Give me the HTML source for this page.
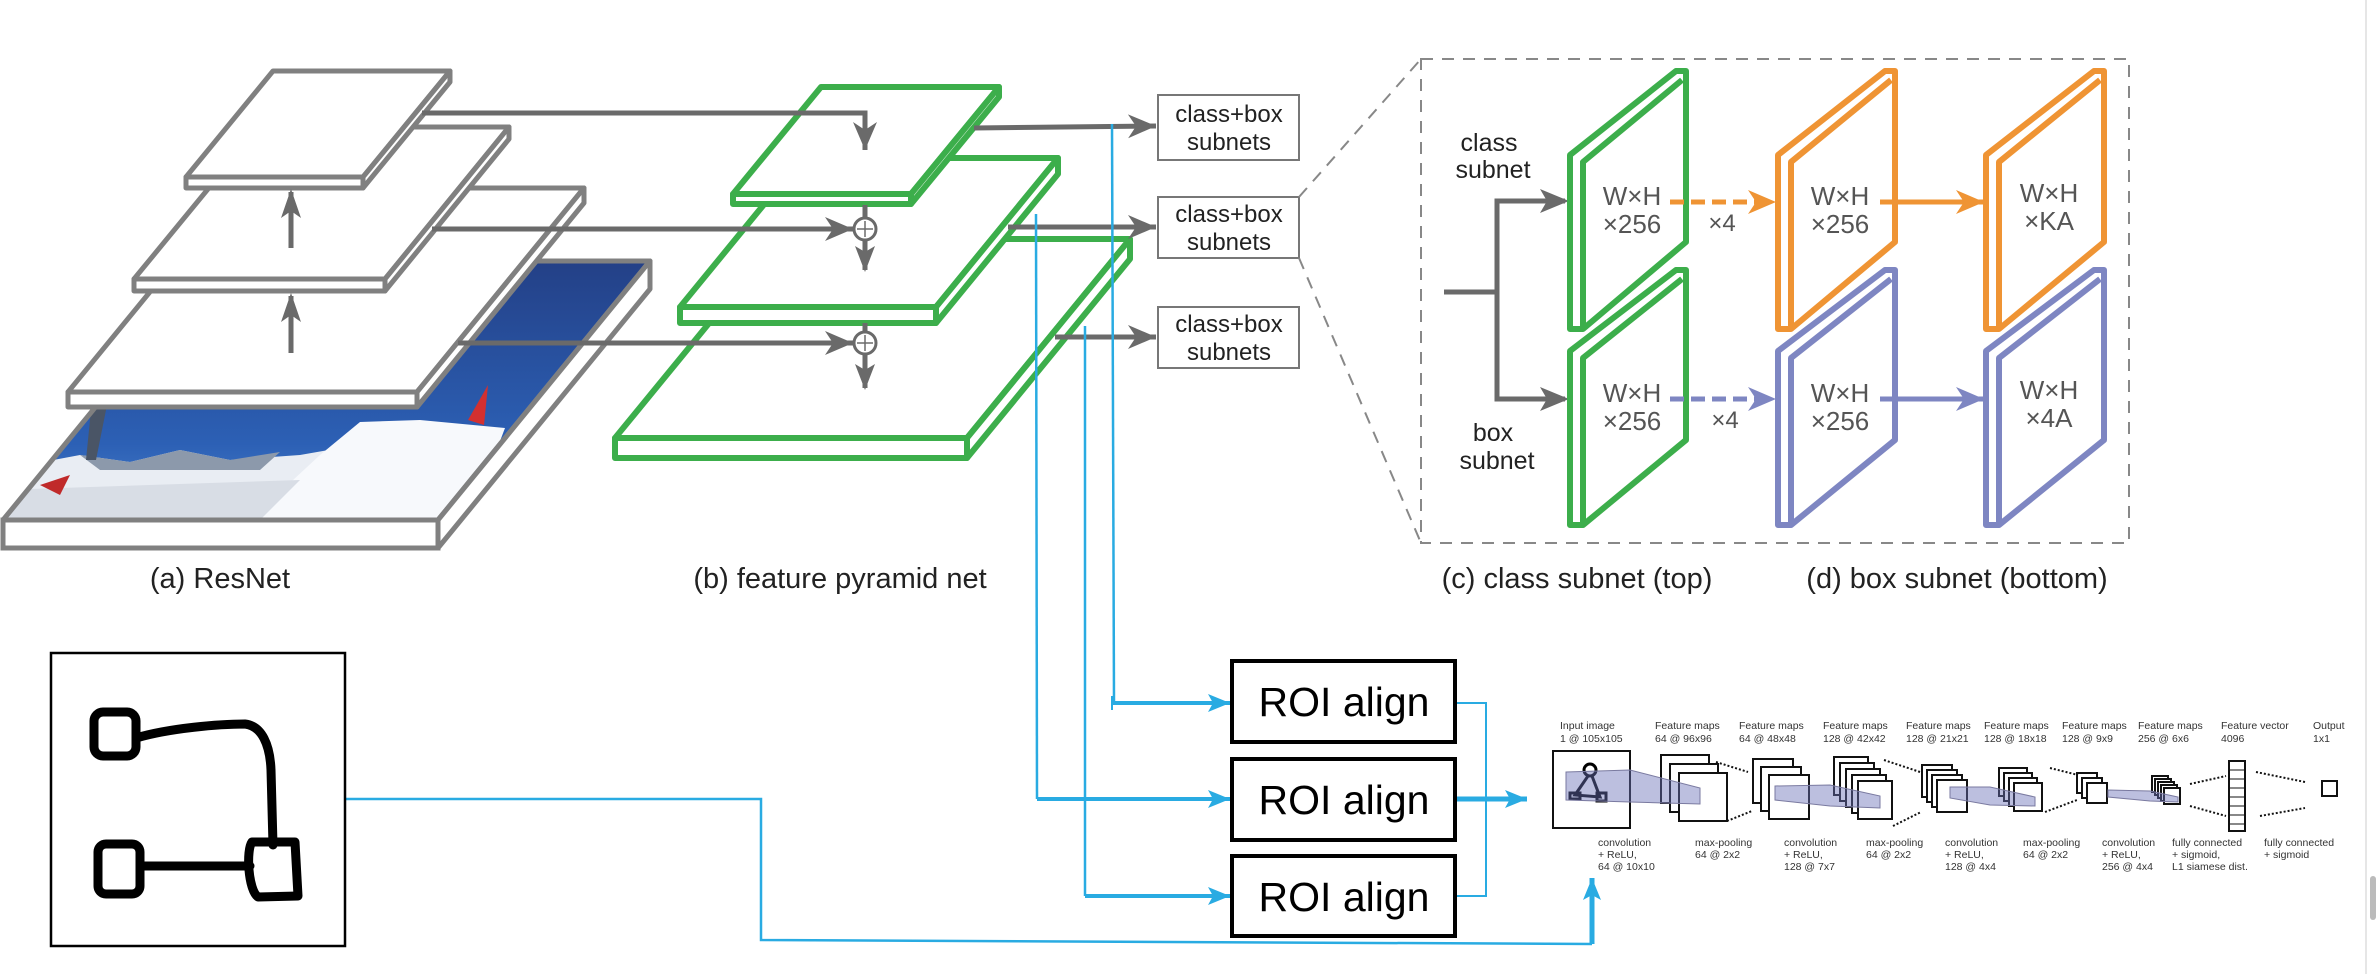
<!DOCTYPE html>
<html><head><meta charset="utf-8"><style>
html,body{margin:0;padding:0;background:#fff;}
svg{display:block;}
text{font-family:"Liberation Sans","DejaVu Sans",sans-serif;}
</style></head><body>
<svg width="2376" height="974" viewBox="0 0 2376 974" xmlns="http://www.w3.org/2000/svg">
<defs>
<marker id="ag" markerUnits="userSpaceOnUse" markerWidth="30" markerHeight="26" refX="28" refY="12" orient="auto"><path d="M0,0 L28,12 L0,24 L8,12 z" fill="#6a6a6a"/></marker>
<marker id="ags" markerUnits="userSpaceOnUse" markerWidth="22" markerHeight="20" refX="20" refY="9" orient="auto"><path d="M0,0 L20,9 L0,18 L6,9 z" fill="#6a6a6a"/></marker>
<marker id="ao" markerUnits="userSpaceOnUse" markerWidth="30" markerHeight="26" refX="28" refY="12" orient="auto"><path d="M0,0 L28,12 L0,24 L8,12 z" fill="#ef9434"/></marker>
<marker id="ap" markerUnits="userSpaceOnUse" markerWidth="30" markerHeight="26" refX="28" refY="12" orient="auto"><path d="M0,0 L28,12 L0,24 L8,12 z" fill="#7e86c2"/></marker>
<marker id="ab" markerUnits="userSpaceOnUse" markerWidth="24" markerHeight="20" refX="22" refY="9" orient="auto"><path d="M0,0 L22,9 L0,18 L5,9 z" fill="#29abe2"/></marker>
<linearGradient id="sky" x1="0" y1="0" x2="0" y2="1"><stop offset="0" stop-color="#233f85"/><stop offset="0.7" stop-color="#2c60b5"/><stop offset="1" stop-color="#4f86cf"/></linearGradient>
<clipPath id="imgclip"><polygon points="215,261 650,261 438,520 3,520"/></clipPath>
</defs>

<!-- ===== (a) ResNet ===== -->
<!-- image slab -->
<g clip-path="url(#imgclip)">
<rect x="0" y="255" width="660" height="270" fill="url(#sky)"/>
<polygon points="0,470 80,455 130,462 180,450 230,460 300,455 340,448 300,520 0,520" fill="#e9edf3"/>
<polygon points="80,455 130,462 180,450 230,460 280,452 260,470 100,470" fill="#8c99ab"/>
<polygon points="250,520 320,455 360,422 420,420 505,428 470,520" fill="#f7f9fc"/>
<polygon points="0,490 300,480 260,520 0,520" fill="#d8dde5"/>
<polygon points="92,400 108,400 96,460 86,460" fill="#4a5566"/>
<polygon points="468,420 488,385 484,425" fill="#d33030"/>
<polygon points="40,485 70,475 60,495" fill="#c02a2a"/>
</g>
<polygon points="215,261 650,261 438,520 3,520" fill="none" stroke="#808080" stroke-width="5" stroke-linejoin="round"/>
<rect x="3" y="520" width="435" height="28" fill="#fff" stroke="#808080" stroke-width="5"/>
<polygon points="650,261 650,289 438,548 438,520" fill="#fff" stroke="#808080" stroke-width="5" stroke-linejoin="round"/>

<!-- bottom gray layer -->
<g fill="#fff" stroke="#808080" stroke-width="5" stroke-linejoin="round">
<polygon points="235,188 584,188 417,392 68,392"/>
<rect x="68" y="392" width="349" height="15"/>
<polygon points="584,188 584,203 417,407 417,392"/>
<!-- middle -->
<polygon points="259,127 509,127 385,279 134,279"/>
<rect x="134" y="279" width="251" height="12"/>
<polygon points="509,127 509,139 385,291 385,279"/>
<!-- top -->
<polygon points="273,71 450,71 363,177 186,177"/>
<rect x="186" y="177" width="177" height="11"/>
<polygon points="450,71 450,82 363,188 363,177"/>
</g>
<!-- up arrows -->
<line x1="291" y1="248" x2="291" y2="192" stroke="#6a6a6a" stroke-width="5" marker-end="url(#agbig)"/>
<path d="M291,189 L281,218 L291,211 L301,218 z" fill="#6a6a6a"/>
<line x1="291" y1="353" x2="291" y2="296" stroke="#6a6a6a" stroke-width="5"/>
<path d="M291,293 L281,322 L291,315 L301,322 z" fill="#6a6a6a"/>

<!-- ===== (b) FPN green ===== -->
<g fill="#fff" stroke="#3cae4b" stroke-width="6" stroke-linejoin="round">
<polygon points="778,239 1130,239 967,438 615,438"/>
<rect x="615" y="438" width="352" height="20"/>
<polygon points="1130,239 1130,259 967,458 967,438"/>
<polygon points="802,158 1058,158 936,307 680,307"/>
<rect x="680" y="307" width="256" height="16"/>
<polygon points="1058,158 1058,174 936,323 936,307"/>
<polygon points="821,87 999,87 911,194 733,194"/>
<rect x="733" y="194" width="178" height="10"/>
<polygon points="999,87 999,97 911,204 911,194"/>
</g>

<!-- lateral arrows -->
<g stroke="#6a6a6a" stroke-width="5" fill="none">
<polyline points="422,113 865,113 865,150" marker-end="url(#ag)"/>
<line x1="432" y1="229" x2="853" y2="229" marker-end="url(#ag)"/>
<line x1="458" y1="343" x2="853" y2="343" marker-end="url(#ag)"/>
<line x1="865" y1="205" x2="865" y2="218"/>
<line x1="865" y1="240" x2="865" y2="270" marker-end="url(#agb)"/>
<line x1="865" y1="323" x2="865" y2="332"/>
<line x1="865" y1="354" x2="865" y2="388"/>
</g>
<path d="M865,272 L855,246 L865,252 L875,246 z" fill="#6a6a6a"/>
<path d="M865,390 L855,364 L865,370 L875,364 z" fill="#6a6a6a"/>
<g fill="#fff" stroke="#6a6a6a" stroke-width="3">
<circle cx="865" cy="229" r="11"/><circle cx="865" cy="343" r="11"/>
</g>
<g stroke="#6a6a6a" stroke-width="1.5"><line x1="857" y1="229" x2="873" y2="229"/><line x1="865" y1="221" x2="865" y2="237"/><line x1="857" y1="343" x2="873" y2="343"/><line x1="865" y1="335" x2="865" y2="351"/></g>

<!-- arrows to class+box -->
<g stroke="#6a6a6a" stroke-width="5" fill="none">
<line x1="974" y1="128" x2="1156" y2="126" marker-end="url(#ag)"/>
<line x1="1008" y1="227" x2="1156" y2="227" marker-end="url(#ag)"/>
<line x1="1055" y1="337" x2="1156" y2="337" marker-end="url(#ag)"/>
</g>
<g fill="#fff" stroke="#777" stroke-width="2">
<rect x="1158" y="95" width="141" height="65"/>
<rect x="1158" y="197" width="141" height="61"/>
<rect x="1158" y="307" width="141" height="61"/>
</g>
<g font-size="24" fill="#222" text-anchor="middle">
<text x="1229" y="122">class+box</text><text x="1229" y="150">subnets</text>
<text x="1229" y="222">class+box</text><text x="1229" y="250">subnets</text>
<text x="1229" y="332">class+box</text><text x="1229" y="360">subnets</text>
</g>

<!-- dashed zoom box -->
<g stroke="#888" stroke-width="2" fill="none" stroke-dasharray="12,9">
<line x1="1299" y1="197" x2="1421" y2="59"/>
<line x1="1299" y1="258" x2="1421" y2="543"/>
<rect x="1421" y="59" width="708" height="484"/>
</g>

<!-- class/box subnet inputs -->
<g font-size="25" fill="#222" text-anchor="middle">
<text x="1489" y="151">class</text><text x="1493" y="178">subnet</text>
<text x="1493" y="441">box</text><text x="1497" y="469">subnet</text>
</g>
<g stroke="#6a6a6a" stroke-width="5" fill="none">
<line x1="1444" y1="292" x2="1497" y2="292"/>
<polyline points="1565,201 1497,201 1497,399 1565,399" />
</g>
<path d="M1569,201 L1540,189 L1547,201 L1540,213 z" fill="#6a6a6a"/>
<path d="M1569,399 L1540,387 L1547,399 L1540,411 z" fill="#6a6a6a"/>

<!-- panels -->
<g stroke-width="6" fill="#fff" stroke-linejoin="round">
<g stroke="#3cae4b">
<polygon points="1570,155 1676,71 1686,71 1686,242 1583,329 1570,329"/><polyline points="1583,329 1583,162 1682,80" fill="none"/>
<polygon points="1570,351 1676,270 1686,270 1686,440 1583,525 1570,525"/><polyline points="1583,525 1583,358 1682,279" fill="none"/>
</g>
<g stroke="#ef9434">
<polygon points="1778,155 1885,71 1895,71 1895,242 1791,329 1778,329"/><polyline points="1791,329 1791,162 1891,80" fill="none"/>
<polygon points="1986,155 2094,71 2104,71 2104,242 1999,329 1986,329"/><polyline points="1999,329 1999,162 2100,80" fill="none"/>
</g>
<g stroke="#7e86c2">
<polygon points="1778,351 1885,270 1895,270 1895,440 1791,525 1778,525"/><polyline points="1791,525 1791,358 1891,279" fill="none"/>
<polygon points="1986,351 2094,270 2104,270 2104,440 1999,525 1986,525"/><polyline points="1999,525 1999,358 2100,279" fill="none"/>
</g>
</g>
<g font-size="26" fill="#555" text-anchor="middle">
<text x="1632" y="205">W×H</text><text x="1632" y="233">×256</text>
<text x="1840" y="205">W×H</text><text x="1840" y="233">×256</text>
<text x="2049" y="202">W×H</text><text x="2049" y="230">×KA</text>
<text x="1632" y="402">W×H</text><text x="1632" y="430">×256</text>
<text x="1840" y="402">W×H</text><text x="1840" y="430">×256</text>
<text x="2049" y="399">W×H</text><text x="2049" y="427">×4A</text>
<text x="1722" y="231" font-size="24">×4</text>
<text x="1725" y="428" font-size="24">×4</text>
</g>
<g stroke-width="5" fill="none">
<line x1="1670" y1="202" x2="1776" y2="202" stroke="#ef9434" stroke-dasharray="14,7" marker-end="url(#ao)"/>
<line x1="1880" y1="202" x2="1984" y2="202" stroke="#ef9434" marker-end="url(#ao)"/>
<line x1="1670" y1="399" x2="1776" y2="399" stroke="#7e86c2" stroke-dasharray="14,7" marker-end="url(#ap)"/>
<line x1="1880" y1="399" x2="1984" y2="399" stroke="#7e86c2" marker-end="url(#ap)"/>
</g>

<!-- captions -->
<g font-size="29" fill="#222" text-anchor="middle">
<text x="220" y="588">(a) ResNet</text>
<text x="840" y="588">(b) feature pyramid net</text>
<text x="1577" y="588">(c) class subnet (top)</text>
<text x="1957" y="588">(d) box subnet (bottom)</text>
</g>

<!-- ===== blue connectors ===== -->
<g stroke="#29abe2" fill="none">
<polyline points="1112,124 1114,703" stroke-width="2.5"/>
<polyline points="1036,214 1037,799" stroke-width="2.5"/>
<polyline points="1085,326 1085,896" stroke-width="2.5"/>
<line x1="1112" y1="703" x2="1230" y2="703" stroke-width="4" marker-end="url(#ab)"/>
<line x1="1112" y1="696" x2="1112" y2="710" stroke-width="2"/>
<line x1="1037" y1="799" x2="1230" y2="799" stroke-width="4" marker-end="url(#ab)"/>
<line x1="1085" y1="896" x2="1230" y2="896" stroke-width="4" marker-end="url(#ab)"/>
<polyline points="1455,703 1486,703 1486,896 1455,896" stroke-width="2"/>
<line x1="1455" y1="799" x2="1527" y2="799" stroke-width="5" marker-end="url(#ab)"/>
<polyline points="345,799 761,799 761,940 1592,944" stroke-width="2.5"/>
<line x1="1592" y1="944" x2="1592" y2="878" stroke-width="5" marker-end="url(#ab)"/>
</g>

<!-- ROI boxes -->
<g fill="#fff" stroke="#000" stroke-width="4">
<rect x="1232" y="661" width="223" height="81"/>
<rect x="1232" y="759" width="223" height="81"/>
<rect x="1232" y="856" width="223" height="80"/>
</g>
<g font-size="41" fill="#000" text-anchor="middle">
<text x="1344" y="716">ROI align</text>
<text x="1344" y="814">ROI align</text>
<text x="1344" y="911">ROI align</text>
</g>

<!-- sketch -->
<rect x="51" y="653" width="294" height="293" fill="#fff" stroke="#000" stroke-width="2.5"/>
<g stroke="#000" stroke-width="9" fill="none" stroke-linejoin="round" stroke-linecap="round">
<rect x="94" y="712" width="42" height="44" rx="9"/>
<path d="M136,738 C170,728 220,724 245,724 C262,726 270,745 271,770 L273,845"/>
<rect x="98" y="844" width="42" height="50" rx="8"/>
<path d="M252,842 L295,842 L298,896 L258,897 C248,890 246,850 252,842 z"/>
<line x1="140" y1="866" x2="250" y2="866"/>
</g>

<!-- ===== CNN strip ===== -->
<g font-size="10.5" fill="#333">
<text x="1560" y="729">Input image</text><text x="1560" y="742">1 @ 105x105</text>
<text x="1655" y="729">Feature maps</text><text x="1655" y="742">64 @ 96x96</text>
<text x="1739" y="729">Feature maps</text><text x="1739" y="742">64 @ 48x48</text>
<text x="1823" y="729">Feature maps</text><text x="1823" y="742">128 @ 42x42</text>
<text x="1906" y="729">Feature maps</text><text x="1906" y="742">128 @ 21x21</text>
<text x="1984" y="729">Feature maps</text><text x="1984" y="742">128 @ 18x18</text>
<text x="2062" y="729">Feature maps</text><text x="2062" y="742">128 @ 9x9</text>
<text x="2138" y="729">Feature maps</text><text x="2138" y="742">256 @ 6x6</text>
<text x="2221" y="729">Feature vector</text><text x="2221" y="742">4096</text>
<text x="2313" y="729">Output</text><text x="2313" y="742">1x1</text>
<text x="1598" y="846">convolution</text><text x="1598" y="858">+ ReLU,</text><text x="1598" y="870">64 @ 10x10</text>
<text x="1695" y="846">max-pooling</text><text x="1695" y="858">64 @ 2x2</text>
<text x="1784" y="846">convolution</text><text x="1784" y="858">+ ReLU,</text><text x="1784" y="870">128 @ 7x7</text>
<text x="1866" y="846">max-pooling</text><text x="1866" y="858">64 @ 2x2</text>
<text x="1945" y="846">convolution</text><text x="1945" y="858">+ ReLU,</text><text x="1945" y="870">128 @ 4x4</text>
<text x="2023" y="846">max-pooling</text><text x="2023" y="858">64 @ 2x2</text>
<text x="2102" y="846">convolution</text><text x="2102" y="858">+ ReLU,</text><text x="2102" y="870">256 @ 4x4</text>
<text x="2172" y="846">fully connected</text><text x="2172" y="858">+ sigmoid,</text><text x="2172" y="870">L1 siamese dist.</text>
<text x="2264" y="846">fully connected</text><text x="2264" y="858">+ sigmoid</text>
</g>
<g fill="#fff" stroke="#111" stroke-width="2">
<rect x="1553" y="751" width="77" height="77"/>
<rect x="1661" y="755" width="48" height="48"/><rect x="1670" y="764" width="48" height="48"/><rect x="1679" y="773" width="48" height="48"/>
<rect x="1753" y="759" width="40" height="44"/><rect x="1761" y="767" width="40" height="44"/><rect x="1769" y="775" width="40" height="44"/>
<rect x="1834" y="757" width="34" height="38"/><rect x="1840" y="763" width="34" height="38"/><rect x="1846" y="769" width="34" height="38"/><rect x="1852" y="775" width="34" height="38"/><rect x="1858" y="781" width="34" height="38"/>
<rect x="1922" y="765" width="30" height="32"/><rect x="1927" y="770" width="30" height="32"/><rect x="1932" y="775" width="30" height="32"/><rect x="1937" y="780" width="30" height="32"/>
<rect x="1999" y="768" width="28" height="28"/><rect x="2004" y="773" width="28" height="28"/><rect x="2009" y="778" width="28" height="28"/><rect x="2014" y="783" width="28" height="28"/>
<rect x="2077" y="773" width="20" height="20"/><rect x="2082" y="778" width="20" height="20"/><rect x="2087" y="783" width="20" height="20"/>
<rect x="2152" y="776" width="16" height="16"/><rect x="2155" y="779" width="16" height="16"/><rect x="2158" y="782" width="16" height="16"/><rect x="2161" y="785" width="16" height="16"/><rect x="2164" y="788" width="16" height="16"/>
<rect x="2229" y="761" width="16" height="70"/>
<rect x="2322" y="781" width="15" height="15"/>
</g>
<g stroke="#111" stroke-width="1"><line x1="2229" y1="770" x2="2245" y2="770"/><line x1="2229" y1="779" x2="2245" y2="779"/><line x1="2229" y1="788" x2="2245" y2="788"/><line x1="2229" y1="797" x2="2245" y2="797"/><line x1="2229" y1="806" x2="2245" y2="806"/><line x1="2229" y1="815" x2="2245" y2="815"/><line x1="2229" y1="824" x2="2245" y2="824"/></g>
<g stroke="#000" stroke-width="3" fill="none"><circle cx="1590" cy="770" r="6"/><polyline points="1588,776 1575,795 1600,797 1592,776"/><rect x="1570" y="793" width="10" height="6"/><rect x="1597" y="793" width="9" height="8"/></g>
<g fill="#6a70b8" fill-opacity="0.45" stroke="#7a7aa0" stroke-width="1">
<polygon points="1566,772 1630,770 1700,788 1700,804 1630,802 1566,800"/>
<polygon points="1775,786 1830,785 1880,796 1880,808 1830,806 1775,800"/>
<polygon points="1950,787 1990,787 2035,797 2035,806 1990,805 1950,798"/>
<polygon points="2108,790 2150,791 2178,797 2178,802 2150,801 2108,797"/>
</g>
<g stroke="#111" stroke-width="2" stroke-dasharray="2,2" fill="none">
<line x1="1716" y1="762" x2="1748" y2="772"/><line x1="1727" y1="821" x2="1752" y2="811"/>
<line x1="1884" y1="760" x2="1920" y2="772"/><line x1="1893" y1="826" x2="1921" y2="812"/>
<line x1="2050" y1="768" x2="2078" y2="775"/><line x1="2045" y1="812" x2="2077" y2="800"/>
<line x1="2190" y1="784" x2="2226" y2="776"/><line x1="2190" y1="806" x2="2226" y2="816"/>
<line x1="2256" y1="772" x2="2305" y2="782"/><line x1="2260" y1="816" x2="2305" y2="808"/>
</g>

<!-- scrollbar remnant -->
<line x1="2366" y1="0" x2="2366" y2="974" stroke="#e6e6e6" stroke-width="2"/>
<rect x="2370" y="876" width="6" height="44" rx="3" fill="#bbb"/>
</svg>
</body></html>
